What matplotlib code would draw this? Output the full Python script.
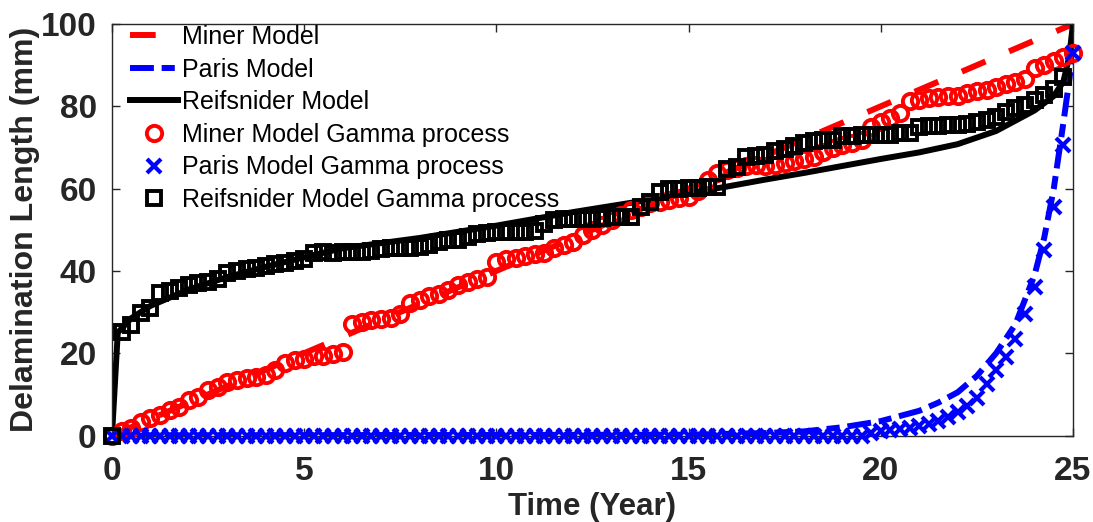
import matplotlib
matplotlib.use("Agg")
import matplotlib.pyplot as plt

# ---------------- data ----------------
miner_t = [0.0, 25.0]
miner_y = [0.0, 100.0]

paris_t = [0, 15, 16, 17, 18, 19, 20, 21, 21.5, 22, 22.5, 23, 23.5, 24, 24.25, 24.5, 24.75, 25]
paris_y = [0, 0.2, 0.4, 0.6, 1.0, 2.0, 3.5, 6.0, 8.0, 10.5, 14.5, 20.0, 27.0, 39.0, 48.0, 60.0, 76.0, 93.0]

reif_t = [0, 0.15, 0.5, 1, 2, 3, 4, 5, 6, 8, 10, 12, 14, 16, 17, 18, 19, 20, 21, 22, 23, 24, 24.5, 24.75, 24.9, 25]
reif_y = [0, 25.0, 28.5, 31.5, 35.5, 38.5, 41.0, 43.3, 45.5, 48.0, 51.0, 54.3, 57.3, 60.5, 62.2, 63.8, 65.5, 67.2,
          68.8, 70.8, 74.0, 79.0, 82.5, 86.0, 92.0, 100.0]

gamma_t = [0.0, 0.25, 0.5, 0.75, 1.0, 1.25, 1.5, 1.75, 2.0, 2.25, 2.5, 2.75, 3.0, 3.25, 3.5, 3.75,
           4.0, 4.25, 4.5, 4.75, 5.0, 5.25, 5.5, 5.75, 6.0, 6.25, 6.5, 6.75, 7.0, 7.25, 7.5, 7.75,
           8.0, 8.25, 8.5, 8.75, 9.0, 9.25, 9.5, 9.75, 10.0, 10.25, 10.5, 10.75, 11.0, 11.25, 11.5, 11.75,
           12.0, 12.25, 12.5, 12.75, 13.0, 13.25, 13.5, 13.75, 14.0, 14.25, 14.5, 14.75, 15.0, 15.25, 15.5, 15.75,
           16.0, 16.25, 16.5, 16.75, 17.0, 17.25, 17.5, 17.75, 18.0, 18.25, 18.5, 18.75, 19.0, 19.25, 19.5, 19.75,
           20.0, 20.25, 20.5, 20.75, 21.0, 21.25, 21.5, 21.75, 22.0, 22.25, 22.5, 22.75, 23.0, 23.25, 23.5, 23.75,
           24.0, 24.25, 24.5, 24.75, 25.0]

miner_gamma = [0.0, 1.0, 1.8, 3.4, 4.2, 5.0, 6.2, 7.0, 8.6, 9.4, 11.0, 11.9, 13.1, 13.5, 14.0, 14.3,
               14.7, 15.9, 17.6, 18.3, 18.6, 19.2, 19.4, 19.9, 20.4, 27.2, 27.6, 28.0, 28.2, 28.5, 29.5, 32.3,
               33.0, 33.8, 34.5, 35.3, 36.5, 37.2, 38.0, 38.6, 42.2, 42.8, 43.2, 43.6, 44.0, 44.4, 45.5, 46.3,
               47.1, 48.7, 49.9, 51.1, 52.4, 53.5, 54.8, 55.6, 56.4, 56.8, 57.2, 57.6, 58.0, 59.5, 62.0, 63.7,
               64.5, 65.0, 65.4, 65.8, 65.5, 65.8, 66.2, 66.6, 67.2, 67.8, 69.0, 69.8, 70.6, 71.0, 71.8, 75.0,
               76.3, 77.1, 78.3, 81.2, 81.6, 82.0, 82.2, 82.4, 82.6, 83.2, 83.6, 84.0, 84.7, 85.4, 85.9, 86.7,
               89.2, 90.0, 91.0, 92.0, 93.0]

paris_gamma = [0.0, 0.0, 0.0, 0.0, 0.0, 0.0, 0.0, 0.0, 0.0, 0.0, 0.0, 0.0, 0.0, 0.0, 0.0, 0.0,
               0.0, 0.0, 0.0, 0.0, 0.0, 0.0, 0.0, 0.0, 0.0, 0.0, 0.0, 0.0, 0.0, 0.0, 0.0, 0.0,
               0.0, 0.0, 0.0, 0.0, 0.0, 0.0, 0.0, 0.0, 0.0, 0.0, 0.0, 0.0, 0.0, 0.0, 0.0, 0.0,
               0.0, 0.0, 0.0, 0.0, 0.0, 0.0, 0.0, 0.0, 0.0, 0.0, 0.0, 0.0, 0.0, 0.0, 0.0, 0.0,
               0.0, 0.0, 0.0, 0.0, 0.0, 0.0, 0.0, 0.0, 0.0, 0.0, 0.0, 0.0, 0.0, 0.0, 0.0, 0.5,
               1.0, 1.3, 1.5, 1.8, 2.2, 2.8, 3.5, 4.5, 5.8, 7.2, 9.0, 12.5, 16.0, 19.0, 23.5, 29.5,
               36.0, 45.0, 55.5, 70.5, 93.0]

reif_gamma_t = gamma_t[:-1]
reif_gamma = [0.0, 25.2, 26.8, 29.8, 31.0, 34.6, 35.0, 35.8, 36.6, 37.0, 37.4, 38.0, 39.6, 40.0, 40.4, 40.8,
              41.2, 41.6, 42.0, 42.4, 42.8, 44.3, 44.5, 44.4, 44.5, 44.6, 44.7, 44.9, 45.3, 45.5, 45.5, 45.6,
              45.8, 46.2, 47.1, 47.4, 47.6, 48.2, 48.9, 49.3, 49.5, 49.5, 49.5, 49.5, 49.6, 51.5, 52.3, 52.5,
              52.6, 52.6, 52.7, 52.8, 53.0, 53.1, 53.2, 55.5, 56.8, 59.2, 59.8, 60.0, 60.1, 60.2, 60.3, 60.5,
              64.8, 65.2, 67.6, 67.9, 68.1, 69.2, 69.6, 70.4, 71.0, 71.6, 71.8, 71.9, 72.8, 72.9, 73.0, 73.0,
              73.0, 73.1, 73.4, 73.5, 75.0, 75.1, 75.2, 75.4, 75.5, 75.6, 76.3, 76.7, 77.5, 78.7, 79.5, 80.3,
              81.5, 82.7, 84.2, 87.2]

labels = ["Miner Model", "Paris Model", "Reifsnider Model",
          "Miner Model Gamma process", "Paris Model Gamma process", "Reifsnider Model Gamma process"]
x_ticks = [0, 5, 10, 15, 20, 25]
y_ticks = [0, 20, 40, 60, 80, 100]

# ---------------- figure ----------------
plt.rcParams["font.family"] = ["Liberation Sans", "DejaVu Sans"]
W, H = 1093, 522
AX_L, AX_R, AX_T, AX_B = 112, 1073, 24, 435.5
fig = plt.figure(figsize=(W / 100, H / 100), dpi=100)
ax = fig.add_axes([AX_L / W, (H - AX_B) / H, (AX_R - AX_L) / W, (AX_B - AX_T) / H])

lw = 4.3
ax.plot(miner_t, miner_y, color=(1, 0, 0), lw=lw, linestyle=(0, (4.3, 4.3)), label=labels[0], zorder=2)
ax.plot(paris_t, paris_y, color=(0, 0, 1), lw=lw, linestyle=(0, (4.0, 1.3, 2.2, 1.3)), label=labels[1], zorder=2)
ax.plot(reif_t, reif_y, color="black", lw=lw, linestyle="-", label=labels[2], zorder=2)

ax.plot(gamma_t, miner_gamma, linestyle="none", marker="o", ms=11, mew=2.8, mfc="none", mec=(1, 0, 0),
        label=labels[3], zorder=3, clip_on=False)
ax.plot(gamma_t, paris_gamma, linestyle="none", marker="x", ms=10.5, mew=3.0, mec=(0, 0, 1),
        label=labels[4], zorder=4, clip_on=False)
ax.plot(reif_gamma_t, reif_gamma, linestyle="none", marker="s", ms=10.5, mew=2.8, mfc="none", mec="black",
        label=labels[5], zorder=5, clip_on=False)

ax.set_xlim(0, 25)
ax.set_ylim(0, 100)
ax.set_xticks(x_ticks)
ax.set_yticks(y_ticks)

axcol = "#262626"
for sp in ax.spines.values():
    sp.set_color(axcol)
    sp.set_linewidth(1.0)
ax.tick_params(direction="in", length=6, width=1.0, top=True, right=True, colors=axcol, labelsize=22)
ax.tick_params(axis="x", pad=15)
ax.tick_params(axis="y", pad=11)

ax.set_xlabel("Time (Year)", fontsize=22, fontweight="bold", color=axcol)
ax.set_ylabel("Delamination Length (mm)", fontsize=22, fontweight="bold", color=axcol)

leg = ax.legend(loc="upper left", bbox_to_anchor=((130 - AX_L) / (AX_R - AX_L), (AX_B - 25) / (AX_B - AX_T)),
                frameon=False, fontsize=18, handlelength=1.9, handletextpad=0.2, labelspacing=0.345,
                numpoints=1, borderpad=0, borderaxespad=0)
leg.set_zorder(10)

# size the texts so that their extents match the reference
fig.canvas.draw()
rend = fig.canvas.get_renderer()
lab100 = [t for t in ax.get_yticklabels() if t.get_text() == "100"][0]
w100 = lab100.get_window_extent(rend).width
ax.tick_params(labelsize=22 * 56.0 / w100)
xl = ax.xaxis.label
xl.set_fontsize(22 * 168.0 / xl.get_window_extent(rend).width)
yl = ax.yaxis.label
yl.set_fontsize(22 * 405.0 / yl.get_window_extent(rend).height)
for lb in ax.get_xticklabels() + ax.get_yticklabels():
    lb.set_fontweight("bold")
ax.xaxis.set_label_coords(0.5, (AX_B - 492) / (AX_B - AX_T))
ax.yaxis.set_label_coords((40 - AX_L) / (AX_R - AX_L), 0.5)

fig.savefig("out.png", dpi=100)
